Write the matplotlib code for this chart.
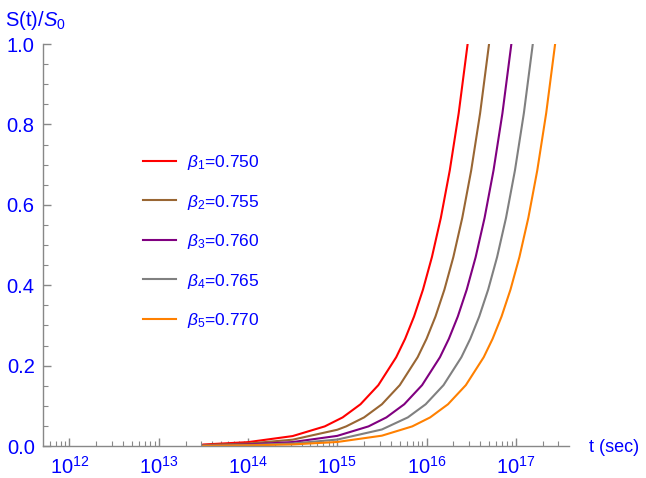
import numpy as np
import matplotlib
matplotlib.use("Agg")
import matplotlib.pyplot as plt
from matplotlib.ticker import LogLocator, MultipleLocator, NullFormatter

plt.rcParams['font.family'] = ['Liberation Sans', 'DejaVu Sans']
plt.rcParams['mathtext.fontset'] = 'custom'
plt.rcParams['mathtext.rm'] = 'Liberation Sans'
plt.rcParams['mathtext.it'] = 'Liberation Sans:italic'
plt.rcParams['mathtext.bf'] = 'Liberation Sans:bold'

# ─────── Data (time as log10 of seconds) ───────
logt_red = [13.5, 14.0, 14.5, 14.86, 15.06, 15.26, 15.46, 15.66, 15.76, 15.86,
            15.96, 16.06, 16.16, 16.26, 16.36, 16.46]
s_red = [0.0037, 0.0096, 0.0247, 0.0488, 0.0711, 0.1038, 0.1514, 0.2208, 0.2667, 0.3221,
         0.3890, 0.4699, 0.5675, 0.6855, 0.8279, 1.0]

logt_brown = [13.5, 14.0, 14.5, 15.0, 15.1, 15.3, 15.5, 15.7, 15.9, 16.0,
              16.1, 16.2, 16.3, 16.4, 16.5, 16.6, 16.7]
s_brown = [0.0024, 0.0061, 0.0157, 0.0404, 0.0488, 0.0711, 0.1038, 0.1514, 0.2208, 0.2667,
           0.3221, 0.3890, 0.4699, 0.5675, 0.6855, 0.8279, 1.0]

logt_purple = [13.5, 14.0, 14.5, 15.0, 15.35, 15.55, 15.75, 15.95, 16.15, 16.25,
               16.35, 16.45, 16.55, 16.65, 16.75, 16.85, 16.95]
s_purple = [0.0015, 0.0038, 0.0098, 0.0252, 0.0488, 0.0711, 0.1038, 0.1514, 0.2208, 0.2667,
            0.3221, 0.3890, 0.4699, 0.5675, 0.6855, 0.8279, 1.0]

logt_gray = [13.5, 14.0, 14.5, 15.0, 15.5, 15.79, 15.99, 16.19, 16.39, 16.49,
             16.59, 16.69, 16.79, 16.89, 16.99, 17.09, 17.19]
s_gray = [0.00094, 0.0024, 0.0062, 0.016, 0.0411, 0.0711, 0.1038, 0.1514, 0.2208, 0.2667,
          0.3221, 0.3890, 0.4699, 0.5675, 0.6855, 0.8279, 1.0]

logt_orange = [13.5, 14.0, 14.5, 15.0, 15.5, 15.84, 16.04, 16.24, 16.44, 16.64, 16.74,
               16.84, 16.94, 17.04, 17.14, 17.24, 17.34, 17.44]
s_orange = [0.00059, 0.0015, 0.0039, 0.010, 0.0257, 0.0488, 0.0711, 0.1038, 0.1514, 0.2208, 0.2667,
            0.3221, 0.3890, 0.4699, 0.5675, 0.6855, 0.8279, 1.0]

labels = [r"$\beta_1$=0.750", r"$\beta_2$=0.755", r"$\beta_3$=0.760",
          r"$\beta_4$=0.765", r"$\beta_5$=0.770"]
colors = ["#ff0000", "#996633", "#800080", "#808080", "#ff8000"]

series = [(logt_red, s_red), (logt_brown, s_brown), (logt_purple, s_purple),
          (logt_gray, s_gray), (logt_orange, s_orange)]

# ─────── Plot ───────
W, H = 646, 478
fig = plt.figure(figsize=(W / 100, H / 100), dpi=100)
ax = fig.add_axes([43 / W, 32 / H, (569 - 43) / W, (446 - 44) / H])

for (lt, s), c, lab in zip(series, colors, labels):
    ax.plot(10.0 ** np.array(lt), s, color=c, lw=1.5, label=lab)

ax.set_xscale("log")
ax.set_xlim(5.06e11, 3.94e17)
ax.set_ylim(0, 1.0)

blue = "#0000ff"
axis_gray = "#888888"
for side in ["top", "right"]:
    ax.spines[side].set_visible(False)
for side in ["left", "bottom"]:
    ax.spines[side].set_color(axis_gray)
    ax.spines[side].set_linewidth(1.0)

ax.yaxis.set_major_locator(MultipleLocator(0.2))
ax.yaxis.set_minor_locator(MultipleLocator(0.05))
ax.set_yticks([0, 0.2, 0.4, 0.6, 0.8, 1.0])
ax.set_yticklabels(["0.0", "0.2", "0.4", "0.6", "0.8", "1.0"])
ax.xaxis.set_major_locator(LogLocator(base=10, numticks=20))
ax.xaxis.set_minor_locator(LogLocator(base=10, subs=np.arange(2, 10), numticks=20))
ax.xaxis.set_minor_formatter(NullFormatter())

ax.tick_params(which="major", direction="in", length=6, width=1.0, color=axis_gray,
               labelcolor=blue, labelsize=14.5)
ax.tick_params(which="minor", direction="in", length=3.5, width=0.8, color=axis_gray)
ax.tick_params(axis="y", pad=6)
ax.tick_params(axis="x", pad=7)

fig.text(5 / W, 1 - 20 / H, r"S(t)/$S_0$", color=blue, fontsize=14.5, ha="left", va="center")
fig.text(589 / W, 1 - 447 / H, "t (sec)", color=blue, fontsize=13, ha="left", va="center")

leg = ax.legend(loc="upper left", bbox_to_anchor=(0.177, 0.746), frameon=False,
                fontsize=12.5, handlelength=1.9, handletextpad=0.63, labelspacing=1.18,
                borderaxespad=0)
for txt in leg.get_texts():
    txt.set_color(blue)

fig.savefig("out.png", dpi=100)
